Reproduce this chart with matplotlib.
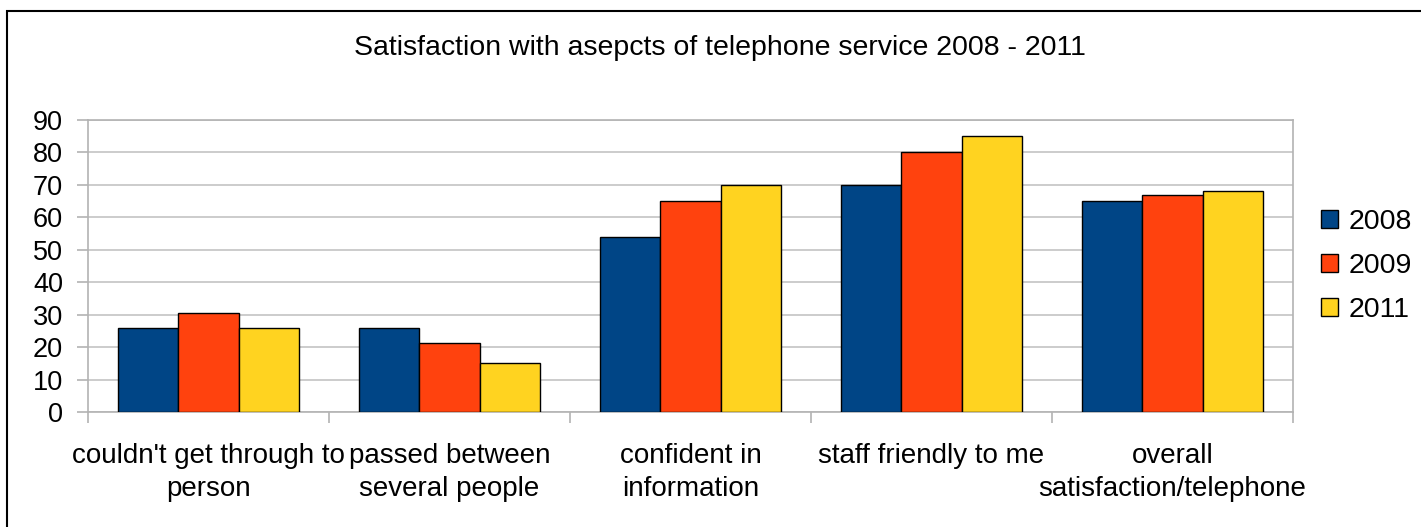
import matplotlib
matplotlib.use("Agg")
import matplotlib.pyplot as plt
import numpy as np
from matplotlib.patches import Rectangle

categories = ["couldn't get through to\nperson", "passed between\nseveral people",
              "confident in\ninformation", "staff friendly to me",
              "overall\nsatisfaction/telephone"]
years = ["2008", "2009", "2011"]
v2008 = [26, 26, 54, 70, 65]
v2009 = [30.6, 21.2, 65, 80, 67]
v2011 = [26, 15, 70, 85, 68]
colors = ["#004586", "#ff420e", "#ffd320"]
yticks = [0, 10, 20, 30, 40, 50, 60, 70, 80, 90]

plt.rcParams['font.family'] = ['Liberation Sans', 'DejaVu Sans']

W, H = 1421, 527
fig = plt.figure(figsize=(W / 100, H / 100), dpi=100)
ax = fig.add_axes([88 / W, 1 - 412 / H, (1293 - 88) / W, (412 - 120) / H])

x = np.arange(len(categories))
bw = 0.25
for i, (vals, yr) in enumerate(zip([v2008, v2009, v2011], years)):
    ax.bar(x + (i - 1) * bw, vals, width=bw, color=colors[i], edgecolor="black",
           linewidth=1.0, label=yr, zorder=3)

ax.set_xlim(-0.5, len(categories) - 0.5)
ax.set_ylim(0, 90)
ax.set_yticks(yticks)
ax.set_yticklabels([str(t) for t in yticks], fontsize=19.5)
ax.yaxis.grid(True, color="#c4c4c4", linewidth=1.2, zorder=0)
ax.tick_params(axis='y', length=8, width=1.2, color="#b3b3b3", pad=10)

ax.set_xticks(np.arange(-0.5, len(categories), 1.0))
ax.set_xticklabels([])
ax.tick_params(axis='x', length=8, width=1.2, color="#b3b3b3")
for xi, c in zip(x, categories):
    ax.text(xi, -0.105, c, transform=ax.get_xaxis_transform(), ha='center', va='top',
            fontsize=20, linespacing=1.36)

for s in ax.spines.values():
    s.set_color("#b3b3b3")
    s.set_linewidth(1.2)

ax.legend(loc='center left', bbox_to_anchor=(1.0 + 17 / (1293 - 88), 0.5), frameon=False,
          fontsize=20.5, handlelength=0.6, handleheight=0.6, handletextpad=0.35,
          labelspacing=0.62, borderaxespad=0)

fig.text(720 / W, 1 - 48 / H, "Satisfaction with asepcts of telephone service 2008 - 2011",
         ha='center', va='center', fontsize=20.5)

fig.patches.append(Rectangle((7 / W, -0.1), 1.2, 1.1 - 11 / H, transform=fig.transFigure,
                             fill=False, edgecolor='black', linewidth=1.5))

fig.savefig("out.png", dpi=100)
